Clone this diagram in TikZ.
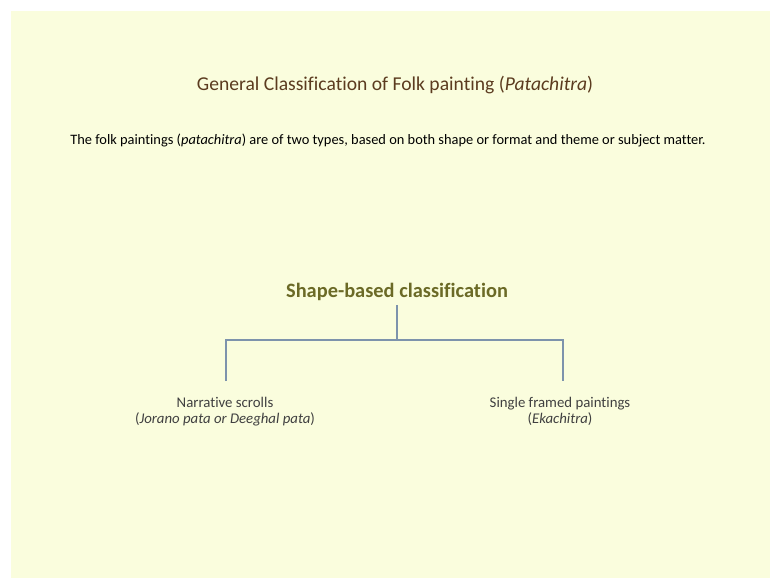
\documentclass[tikz,border=0pt]{standalone}
\usepackage{fontspec}
\setmainfont{Carlito}[Ligatures=NoCommon]
\usetikzlibrary{positioning}
\definecolor{slidebg}{HTML}{FAFDDD}
\definecolor{titlebrown}{HTML}{5B3B1F}
\definecolor{headolive}{HTML}{6B6A26}
\definecolor{branchblue}{HTML}{7D93AC}
\definecolor{leafgray}{HTML}{404040}
\tikzset{
  titletext/.style={font=\fontsize{19.6}{22}\selectfont, text=titlebrown, inner sep=0pt},
  introtext/.style={font=\fontsize{14.4}{16}\selectfont, text=black, inner sep=0pt},
  roottext/.style={font=\bfseries\fontsize{20.4}{24}\selectfont, text=headolive,
    inner xsep=0pt, inner ysep=4pt},
  leaftext/.style={font=\fontsize{14.8}{16.5}\selectfont, text=leafgray,
    align=center, inner sep=0pt},
  branch/.style={draw=branchblue, line width=1.8pt}
}

\begin{document}
\begin{tikzpicture}[x=1pt,y=-1pt]
    \useasboundingbox (0,0) rectangle (770,579);
    \fill[white] (0,0) rectangle (770,579);
    \fill[slidebg] (11,11) rectangle (770,578);

    \node[titletext] (title) at (395,85)
        {General Classification of Folk painting (\textit{Patachitra})};
    \node[introtext] (intro) at (388,140)
        {The folk paintings (\textit{patachitra}) are of two types, based on both shape or format and theme or subject matter.};

    \node[roottext] (shape) at (397,292) {Shape-based classification};
    \node[leaftext, anchor=north] (scrolls) at (225,397)
        {Narrative scrolls\\(\textit{Jorano pata or Deeghal pata})};
    \node[leaftext, anchor=north] (framed) at (560,397)
        {Single framed paintings\\(\textit{Ekachitra})};

    \coordinate (hub) at (shape.south |- 0,340);
    \coordinate (lefttip) at (226,381);
    \coordinate (righttip) at (563,381);

    \draw[branch] (shape.south) -- (hub);
    \draw[branch] (lefttip) |- (hub) -| (righttip);
\end{tikzpicture}
\end{document}
